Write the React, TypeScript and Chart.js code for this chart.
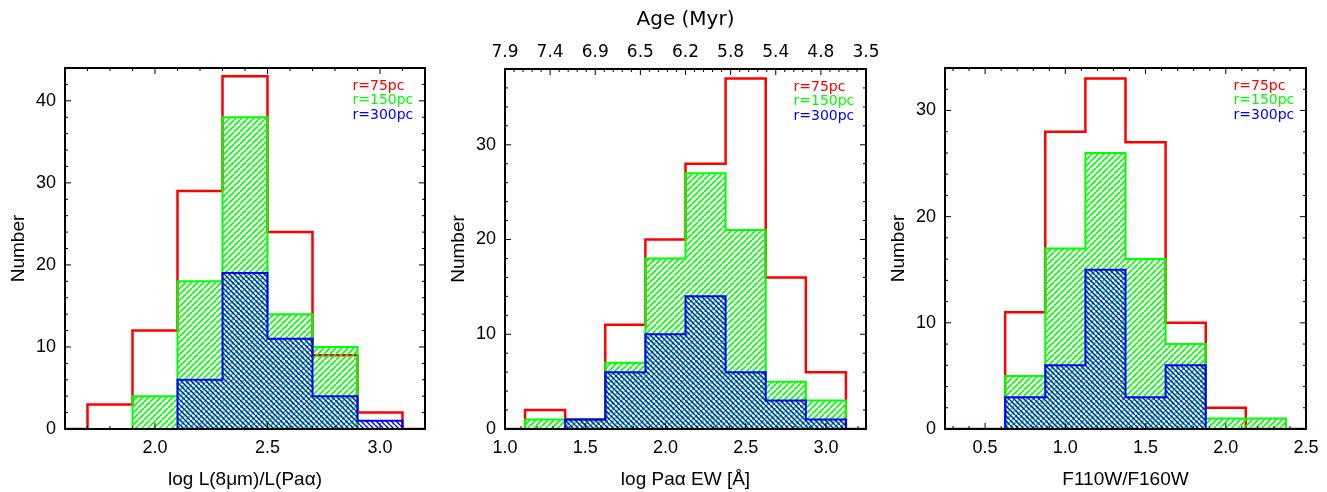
import React, { useEffect, useRef } from 'react';
import { Chart, registerables } from 'chart.js';

Chart.register(...registerables);

// ---------- shared ----------
const seriesLabels = ['r=75pc', 'r=150pc', 'r=300pc'];
const seriesColors = ['#ff0000', '#00ff00', '#0000ff'];

// ---------- panel 1: log L(8um)/L(Pa alpha) ----------
const p1BinEdges = [1.7, 1.9, 2.1, 2.3, 2.5, 2.7, 2.9, 3.1];
const p1R75 = [3, 12, 29, 43, 24, 9, 2];
const p1R150 = [0, 4, 18, 38, 14, 10, 0];
const p1R300 = [0, 0, 6, 19, 11, 4, 1];
const p1XTicks = [2.0, 2.5, 3.0];
const p1YTicks = [0, 10, 20, 30, 40];

// ---------- panel 2: log Pa alpha EW ----------
const p2BinEdges = [1.125, 1.375, 1.625, 1.875, 2.125, 2.375, 2.625, 2.875, 3.125];
const p2R75 = [2, 1, 11, 20, 28, 37, 16, 6];
const p2R150 = [1, 1, 7, 18, 27, 21, 5, 3];
const p2R300 = [0, 1, 6, 10, 14, 6, 3, 1];
const p2XTicks = [1.0, 1.5, 2.0, 2.5, 3.0];
const p2YTicks = [0, 10, 20, 30];
const ageTickLabels = ['7.9', '7.4', '6.9', '6.5', '6.2', '5.8', '5.4', '4.8', '3.5'];

// ---------- panel 3: F110W/F160W ----------
const p3BinEdges = [0.625, 0.875, 1.125, 1.375, 1.625, 1.875, 2.125, 2.375];
const p3R75 = [11, 28, 33, 27, 10, 2, 0];
const p3R150 = [5, 17, 26, 16, 8, 1, 1];
const p3R300 = [3, 6, 15, 3, 6, 0, 0];
const p3XTicks = [0.5, 1.0, 1.5, 2.0, 2.5];
const p3YTicks = [0, 10, 20, 30];

const SANS = "'Liberation Sans', Arial, Helvetica, sans-serif";
const IDL = "'DejaVu Sans', sans-serif";

type Spec = {
  edges: number[];
  r75: number[];
  r150: number[];
  r300: number[];
  xMin: number;
  xMax: number;
  yMax: number;
  xTicks: number[];
  yTicks: number[];
  xMinor: number;
  yMinor: number;
  xTitle: string;
  padRight: number;
  ageAxis?: boolean;
  width: number;
};

function stepPoints(edges: number[], counts: number[], xMin?: number, xMax?: number) {
  const pts: { x: number; y: number }[] = [];
  if (xMin !== undefined) pts.push({ x: xMin, y: 0 });
  pts.push({ x: edges[0], y: 0 });
  counts.forEach((c, i) => pts.push({ x: edges[i], y: c }));
  pts.push({ x: edges[edges.length - 1], y: 0 });
  if (xMax !== undefined) pts.push({ x: xMax, y: 0 });
  return pts;
}

function gridValues(min: number, max: number, step: number) {
  const out: number[] = [];
  const a = Math.ceil(min / step - 1e-6);
  const b = Math.floor(max / step + 1e-6);
  for (let k = a; k <= b; k++) out.push(+(k * step).toFixed(6));
  return out;
}

function makeHatch(ctx: CanvasRenderingContext2D, color: string, dir: 1 | -1, size: number, lw: number) {
  const c = document.createElement('canvas');
  c.width = size;
  c.height = size;
  const g = c.getContext('2d')!;
  g.strokeStyle = color;
  g.lineWidth = lw;
  for (let k = -1; k <= 1; k++) {
    g.beginPath();
    if (dir === 1) {
      g.moveTo(k * size, size);
      g.lineTo(k * size + size, 0);
    } else {
      g.moveTo(k * size, 0);
      g.lineTo(k * size + size, size);
    }
    g.stroke();
  }
  return ctx.createPattern(c, 'repeat')!;
}

function HistPanel({ spec }: { spec: Spec }) {
  const ref = useRef<HTMLCanvasElement>(null);
  useEffect(() => {
    const canvas = ref.current!;
    const ctx = canvas.getContext('2d')!;
    const greenHatch = makeHatch(ctx, '#00ff00', 1, 6, 1.6);
    const blueHatch = makeHatch(ctx, '#0000ff', -1, 5, 1.5);

    const framePlugin = {
      id: 'frameTicks',
      afterDatasetsDraw(chart: any) {
        const c = chart.ctx as CanvasRenderingContext2D;
        const a = chart.chartArea;
        const xs = chart.scales.x;
        const ys = chart.scales.y;
        const xt = chart.scales.x2;
        const MAJ = 6;
        const MIN = 3;
        c.save();
        c.strokeStyle = '#000';
        c.lineWidth = 1;
        const seg = (x1: number, y1: number, x2: number, y2: number) => {
          c.beginPath();
          c.moveTo(x1, y1);
          c.lineTo(x2, y2);
          c.stroke();
        };
        const isMajor = (v: number, arr: number[]) => arr.some((t) => Math.abs(t - v) < 1e-6);
        gridValues(spec.xMin, spec.xMax, spec.xMinor).forEach((v) => {
          const len = isMajor(v, spec.xTicks) ? MAJ : MIN;
          const px = xs.getPixelForValue(v);
          seg(px, a.bottom, px, a.bottom - len);
          if (!xt) seg(px, a.top, px, a.top + len);
        });
        if (xt) {
          gridValues(0, ageTickLabels.length - 1, 0.2).forEach((v) => {
            const len = Math.abs(v - Math.round(v)) < 1e-6 ? MAJ : MIN;
            const px = xt.getPixelForValue(v);
            seg(px, a.top, px, a.top + len);
          });
        }
        gridValues(0, spec.yMax, spec.yMinor).forEach((v) => {
          const len = isMajor(v, spec.yTicks) ? MAJ : MIN;
          const py = ys.getPixelForValue(v);
          seg(a.left, py, a.left + len, py);
          seg(a.right, py, a.right - len, py);
        });
        c.lineWidth = 2;
        c.strokeRect(a.left, a.top, a.right - a.left, a.bottom - a.top);
        c.restore();
      },
    };

    const legendPlugin = {
      id: 'cornerLegend',
      afterDraw(chart: any) {
        const c = chart.ctx as CanvasRenderingContext2D;
        const a = chart.chartArea;
        c.save();
        c.font = `14px ${IDL}`;
        c.textAlign = 'left';
        c.textBaseline = 'middle';
        seriesLabels.forEach((t, i) => {
          c.fillStyle = seriesColors[i];
          c.fillText(t, a.right - 72.5, a.top + 18.5 + i * 14.3);
        });
        c.restore();
      },
    };

    const scales: any = {
      x: {
        type: 'linear',
        position: 'bottom',
        min: spec.xMin,
        max: spec.xMax,
        afterBuildTicks: (s: any) => {
          s.ticks = spec.xTicks.map((v) => ({ value: v }));
        },
        afterFit: (s: any) => {
          s.height = 63;
          s.paddingLeft = 0;
          s.paddingRight = 0;
        },
        grid: { display: false, drawTicks: false },
        border: { display: false },
        ticks: {
          font: { family: SANS, size: 18 },
          color: '#000',
          padding: 8,
          maxRotation: 0,
          autoSkip: false,
          callback: (v: any) => Number(v).toFixed(1),
        },
        title: {
          display: true,
          text: spec.xTitle,
          font: { family: SANS, size: 19 },
          color: '#000',
          padding: { top: 0, bottom: 1 },
        },
      },
      y: {
        type: 'linear',
        position: 'left',
        min: 0,
        max: spec.yMax,
        afterBuildTicks: (s: any) => {
          s.ticks = spec.yTicks.map((v) => ({ value: v }));
        },
        afterFit: (s: any) => {
          s.width = 65;
          s.paddingTop = 0;
          s.paddingBottom = 0;
        },
        grid: { display: false, drawTicks: false },
        border: { display: false },
        ticks: {
          font: { family: SANS, size: 18 },
          color: '#000',
          padding: 9,
          callback: (v: any) => String(v),
        },
        title: {
          display: true,
          text: 'Number',
          font: { family: SANS, size: 19 },
          color: '#000',
          padding: { top: 7, bottom: 0 },
        },
      },
    };

    if (spec.ageAxis) {
      scales.x2 = {
        type: 'linear',
        position: 'top',
        min: 0,
        max: ageTickLabels.length - 1,
        afterBuildTicks: (s: any) => {
          s.ticks = ageTickLabels.map((_, i) => ({ value: i }));
        },
        afterFit: (s: any) => {
          s.height = 69;
          s.paddingLeft = 0;
          s.paddingRight = 0;
        },
        grid: { display: false, drawTicks: false },
        border: { display: false },
        ticks: {
          font: { family: IDL, size: 17 },
          color: '#000',
          padding: 6,
          maxRotation: 0,
          autoSkip: false,
          callback: (v: any) => ageTickLabels[Math.round(Number(v))],
        },
        title: {
          display: true,
          text: 'Age (Myr)',
          font: { family: IDL, size: 20 },
          color: '#000',
          padding: { top: 8, bottom: 0 },
        },
      };
    }

    const chart = new Chart(ctx, {
      type: 'line',
      data: {
        datasets: [
          {
            label: seriesLabels[2],
            data: stepPoints(spec.edges, spec.r300),
            borderColor: seriesColors[2],
            borderWidth: 2,
            backgroundColor: blueHatch as any,
            fill: 'origin',
            stepped: 'before',
            pointRadius: 0,
            order: 1,
          },
          {
            label: seriesLabels[1],
            data: stepPoints(spec.edges, spec.r150),
            borderColor: seriesColors[1],
            borderWidth: 2,
            backgroundColor: greenHatch as any,
            fill: 'origin',
            stepped: 'before',
            pointRadius: 0,
            order: 2,
          },
          {
            label: seriesLabels[0],
            data: stepPoints(spec.edges, spec.r75, spec.xMin, spec.xMax),
            borderColor: seriesColors[0],
            borderWidth: 2.5,
            fill: false,
            stepped: 'before',
            pointRadius: 0,
            order: 3,
          },
        ] as any,
      },
      options: {
        animation: false,
        responsive: false,
        devicePixelRatio: 1,
        events: [],
        layout: {
          padding: {
            left: 0,
            right: spec.padRight,
            top: spec.ageAxis ? 0 : 68,
            bottom: 0,
          },
        },
        plugins: {
          legend: { display: false },
          tooltip: { enabled: false },
        },
        scales,
      } as any,
      plugins: [framePlugin, legendPlugin],
    });
    return () => chart.destroy();
  }, [spec]);
  return (
    <canvas
      ref={ref}
      width={spec.width}
      height={492}
      style={{ display: 'block', width: spec.width, height: 492 }}
    />
  );
}

const panel1: Spec = {
  edges: p1BinEdges,
  r75: p1R75,
  r150: p1R150,
  r300: p1R300,
  xMin: 1.6,
  xMax: 3.2,
  yMax: 44,
  xTicks: p1XTicks,
  yTicks: p1YTicks,
  xMinor: 0.1,
  yMinor: 2,
  xTitle: 'log L(8μm)/L(Paα)',
  padRight: 15,
  width: 440,
};

const panel2: Spec = {
  edges: p2BinEdges,
  r75: p2R75,
  r150: p2R150,
  r300: p2R300,
  xMin: 1.0,
  xMax: 3.25,
  yMax: 38,
  xTicks: p2XTicks,
  yTicks: p2YTicks,
  xMinor: 0.1,
  yMinor: 2,
  xTitle: 'log Paα EW [Å]',
  padRight: 14,
  ageAxis: true,
  width: 440,
};

const panel3: Spec = {
  edges: p3BinEdges,
  r75: p3R75,
  r150: p3R150,
  r300: p3R300,
  xMin: 0.25,
  xMax: 2.5,
  yMax: 34,
  xTicks: p3XTicks,
  yTicks: p3YTicks,
  xMinor: 0.1,
  yMinor: 2,
  xTitle: 'F110W/F160W',
  padRight: 21,
  width: 447,
};

export default function App() {
  return (
    <div
      style={{
        position: 'absolute',
        left: 0,
        top: 0,
        width: 1327,
        height: 492,
        background: '#ffffff',
        overflow: 'hidden',
      }}
    >
      <div style={{ position: 'absolute', left: 0, top: 0 }}>
        <HistPanel spec={panel1} />
      </div>
      <div style={{ position: 'absolute', left: 440, top: 0 }}>
        <HistPanel spec={panel2} />
      </div>
      <div style={{ position: 'absolute', left: 880, top: 0 }}>
        <HistPanel spec={panel3} />
      </div>
    </div>
  );
}
